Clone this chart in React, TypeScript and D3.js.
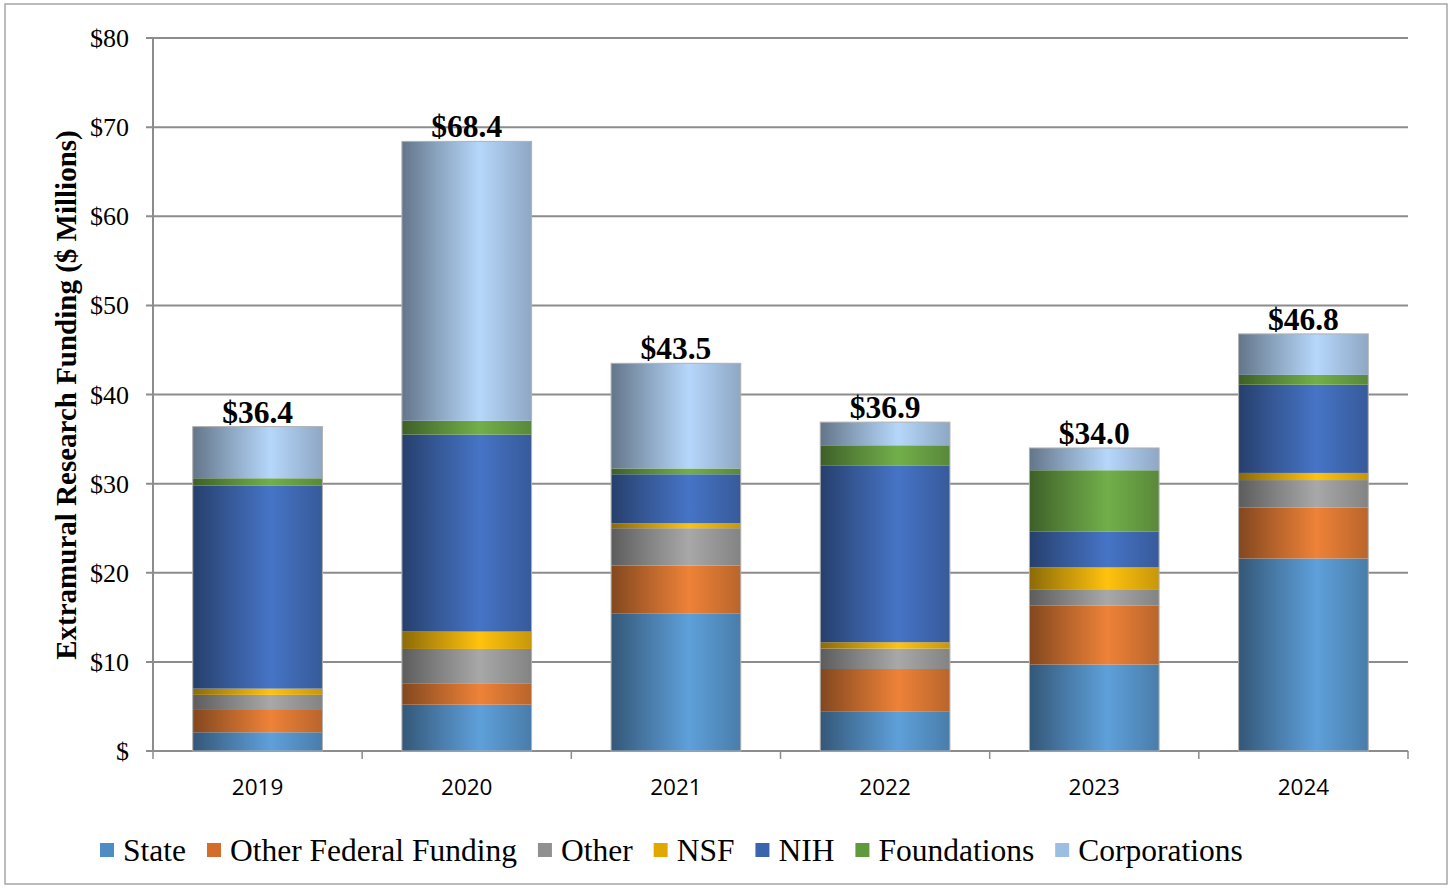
import React from "react";
import * as d3 from "d3";

// funding by source, $ millions
const years = ["2019", "2020", "2021", "2022", "2023", "2024"];
const state = [2.1, 5.2, 15.45, 4.4, 9.7, 21.6];
const otherFederal = [2.6, 2.4, 5.35, 4.8, 6.6, 5.7];
const other = [1.6, 3.85, 4.2, 2.3, 1.85, 3.1];
const nsf = [0.7, 1.95, 0.55, 0.7, 2.45, 0.8];
const nih = [22.8, 22.1, 5.5, 19.8, 4.0, 9.9];
const foundations = [0.8, 1.55, 0.65, 2.3, 6.9, 1.1];
const corporations = [5.8, 31.35, 11.8, 2.6, 2.5, 4.6];
const totals = [36.4, 68.4, 43.5, 36.9, 34.0, 46.8];
const yTicks = [0, 10, 20, 30, 40, 50, 60, 70, 80];

const seriesNames = ["State", "Other Federal Funding", "Other", "NSF", "NIH", "Foundations", "Corporations"];
const seriesValues = [state, otherFederal, other, nsf, nih, foundations, corporations];
const barColors = ["#5EA0DA", "#EE8238", "#A8A8A8", "#FFC20E", "#4674C6", "#72AF4A", "#B6D7FB"];
const legendColors = ["#4E8CC4", "#D46D2C", "#909090", "#E0A800", "#3B63AE", "#5F9A3C", "#9DBEE3"];

const serif = "'Liberation Serif', 'Times New Roman', serif";

function measure(text: string, font: string) {
  const c = document.createElement("canvas").getContext("2d")!;
  c.font = font;
  return c.measureText(text).width;
}

export default function App() {
  const W = 1452, H = 888;
  const left = 153, right = 1408, top = 38, bottom = 751;

  const table = years.map((yr, i) => {
    const row: any = { year: yr };
    seriesNames.forEach((s, k) => (row[s] = seriesValues[k][i]));
    return row;
  });
  const stacked = d3.stack().keys(seriesNames)(table);

  const x = d3.scaleBand().domain(years).range([left, right]).paddingInner(0.38).paddingOuter(0.19);
  const y = d3.scaleLinear().domain([0, 80]).range([bottom, top]);
  const step = x.step();

  // legend layout
  const legendFont = `31.5px ${serif}`;
  let lx = 100;
  const legendItems = seriesNames.map((name, k) => {
    const item = { name, x: lx, color: legendColors[k] };
    lx += 14 + 9 + measure(name, legendFont) + 21;
    return item;
  });

  return (
    <svg width={W} height={H} style={{ position: "absolute", left: 0, top: 0 }}>
      <defs>
        {barColors.map((c, k) => {
          const base = d3.color(c)!;
          return (
            <linearGradient key={k} id={`g${k}`} x1="0" x2="1" y1="0" y2="0">
              <stop offset="0" stopColor={base.darker(1.7).formatHex()} />
              <stop offset="0.28" stopColor={base.darker(0.75).formatHex()} />
              <stop offset="0.6" stopColor={base.formatHex()} />
              <stop offset="1" stopColor={base.darker(0.7).formatHex()} />
            </linearGradient>
          );
        })}
      </defs>
      <rect x={5} y={4} width={1442} height={880} fill="#fff" stroke="#A6A6A6" strokeWidth={1.5} />

      {/* gridlines and y axis */}
      {yTicks.map((t) => (
        <g key={t}>
          <line x1={left - 7} x2={right} y1={y(t)} y2={y(t)} stroke="#8C8C8C" strokeWidth={2} />
          <text x={129} y={y(t)} dy="0.35em" textAnchor="end" fontFamily={serif} fontSize={26} fill="#000">
            {t === 0 ? "$" : `$${t}`}
          </text>
        </g>
      ))}
      <line x1={left} x2={left} y1={top} y2={bottom} stroke="#8C8C8C" strokeWidth={2} />

      {/* x ticks */}
      {d3.range(years.length + 1).map((i) => (
        <line key={i} x1={left + i * step} x2={left + i * step} y1={bottom} y2={bottom + 8} stroke="#8C8C8C" strokeWidth={1.5} />
      ))}
      {years.map((yr) => (
        <text key={yr} x={x(yr)! + x.bandwidth() / 2} y={795} textAnchor="middle" fontFamily="'Open Sans', sans-serif" fontSize={22.5} fill="#000">
          {yr}
        </text>
      ))}

      {/* bars */}
      {stacked.map((layer, k) => (
        <g key={layer.key} fill={`url(#g${k})`}>
          {layer.map((d, i) => (
            <rect key={i} x={x(years[i])} width={x.bandwidth()} y={y(d[1])} height={Math.max(0, y(d[0]) - y(d[1]))} />
          ))}
        </g>
      ))}
      {years.map((yr, i) => (
        <rect key={yr} x={x(yr)} width={x.bandwidth()} y={y(totals[i])} height={bottom - y(totals[i])} fill="none" stroke="#B0B0B0" strokeWidth={1} />
      ))}

      {/* totals */}
      {years.map((yr, i) => (
        <text key={yr} x={x(yr)! + x.bandwidth() / 2} y={y(totals[i]) - 4} textAnchor="middle" fontFamily={serif} fontWeight="bold" fontSize={31.5} fill="#000">
          {`$${totals[i].toFixed(1)}`}
        </text>
      ))}

      {/* y title */}
      <text transform={`translate(76,395) rotate(-90)`} textAnchor="middle" fontFamily={serif} fontWeight="bold" fontSize={29} fill="#000">
        Extramural Research Funding ($ Millions)
      </text>

      {/* legend */}
      {legendItems.map((it) => (
        <g key={it.name}>
          <rect x={it.x} y={843} width={14} height={14} fill={it.color} />
          <text x={it.x + 23} y={850} dy="0.35em" fontFamily={serif} fontSize={31.5} fill="#000">
            {it.name}
          </text>
        </g>
      ))}
    </svg>
  );
}
